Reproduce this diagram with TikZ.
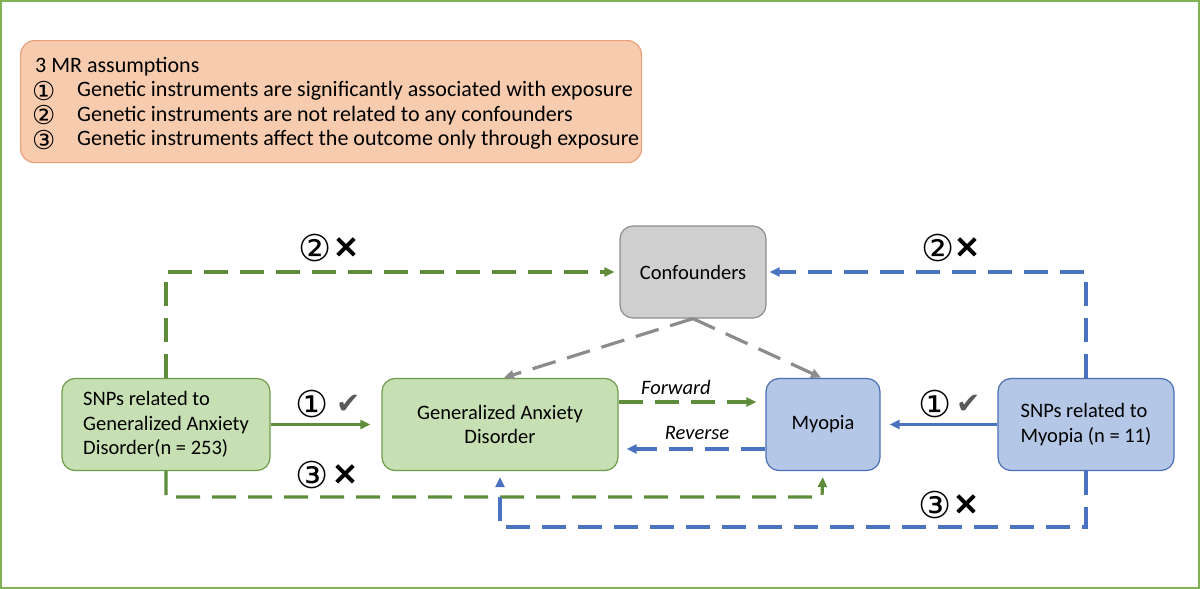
\documentclass[tikz,border=0pt]{standalone}
\usepackage{fontspec}
\setmainfont{Carlito}
\newfontfamily\symf{DejaVu Sans}
\newfontfamily\xfont[FakeBold=2.5]{DejaVu Sans}
\usetikzlibrary{arrows.meta}
\definecolor{gline}{HTML}{5E8C3A}
\definecolor{gfill}{HTML}{C6DFB3}
\definecolor{gdraw}{HTML}{6E9C4A}
\definecolor{bline}{HTML}{4A72C0}
\definecolor{bfill}{HTML}{B4C7E7}
\definecolor{bdraw}{HTML}{4A6FB5}
\definecolor{cfill}{HTML}{D0CFCF}
\definecolor{cdraw}{HTML}{8C8C8C}
\definecolor{pfill}{HTML}{F6CBAE}
\definecolor{pdraw}{HTML}{E9A07C}
\definecolor{frame}{HTML}{7FB356}
\begin{document}
\begin{tikzpicture}[x=1pt,y=-1pt,
  box/.style={draw, rounded corners=13pt, line width=1.2pt, minimum height=92pt, inner sep=0pt, font=\fontsize{20.5}{24.5}\selectfont},
  gbox/.style={box, fill=gfill, draw=gdraw},
  bbox/.style={box, fill=bfill, draw=bdraw},
  cbox/.style={box, fill=cfill, draw=cdraw},
  tip/.style={-{Triangle[length=10pt,width=9pt]}},
  conn/.style={line width=3.2pt, tip},
  dconn/.style={conn, dash pattern=on 24pt off 12pt},
  lbl/.style={font=\symf\fontsize{37}{37}\selectfont, inner sep=0pt},
  xm/.style={font=\xfont\fontsize{31}{31}\selectfont, inner sep=0pt},
  ck/.style={font=\symf\fontsize{29}{29}\selectfont, inner sep=0pt, text=black!65},
  it/.style={font=\fontsize{20.5}{24}\selectfont\itshape, inner sep=0pt},
  atxt/.style={anchor=west, inner sep=0pt, font=\fontsize{22}{24}\selectfont},
  anum/.style={anchor=west, inner sep=0pt, font=\symf\fontsize{26}{26}\selectfont}
]
\useasboundingbox (0,0) rectangle (1200,589);
\draw[frame, line width=1.5pt] (1,1) rectangle (1199,588);

% assumptions box
\node[draw=pdraw, fill=pfill, line width=1.2pt, rounded corners=14pt, minimum width=621pt, minimum height=122pt, anchor=north west, inner sep=0pt] (assump) at (20,40) {};
\node[atxt] (t0) at (35,67) {3 MR assumptions};
\node[anum] (c1) at (32,91) {①};
\node[anum] (c2) at (32,115.5) {②};
\node[anum] (c3) at (32,140) {③};
\node[atxt] (t1) at (77,91) {Genetic instruments are significantly associated with exposure};
\node[atxt] (t2) at (77,115.5) {Genetic instruments are not related to any confounders};
\node[atxt] (t3) at (77,140) {Genetic instruments affect the outcome only through exposure};

% nodes
\node[gbox, minimum width=208pt, align=left] (snpgad) at (166,424.5) {SNPs related to\\Generalized Anxiety\\Disorder(n = 253)};
\node[gbox, minimum width=236pt, align=center] (gad) at (500,424.5) {Generalized Anxiety\\Disorder};
\node[cbox, minimum width=146pt, minimum height=92pt] (conf) at (693,272) {Confounders};
\node[bbox, minimum width=114pt] (myo) at (823,424.5) {Myopia};
\node[bbox, minimum width=176pt, align=left] (snpmyo) at (1086,424.5) {SNPs related to\\Myopia (n = 11)};

% coordinates
\coordinate (g2) at (166,272);
\coordinate (g3) at (166,497);
\coordinate (g3e) at (822,497);
\coordinate (b2) at (1086,272);
\coordinate (b3) at (1086,527);
\coordinate (b3e) at (500,527);

% connectors
\draw[conn, gline, shorten >=11pt] (snpgad.east) -- (gad.west);
\draw[conn, bline, shorten >=9pt] (snpmyo.west) -- (myo.east);
\draw[dconn, gline, shorten >=5pt] (snpgad.north) -- (g2) -- (conf.west);
\draw[dconn, bline, shorten >=3pt] (snpmyo.north) -- (b2) -- (conf.east);
\draw[dconn, gline, shorten >=6pt] (snpgad.south) -- (g3) -- (g3e) -- (myo.south);
\draw[dconn, bline, shorten >=6pt] (snpmyo.south) -- (b3) -- (b3e) -- (gad.south);
\draw[dconn, gline, shorten >=9pt] (gad.east |- 0,402) -- (myo.west |- 0,402);
\draw[dconn, bline, shorten >=8pt] (myo.west |- 0,449) -- (gad.east |- 0,449);
\draw[dconn, cdraw, shorten >=1pt] (conf.south) -- (503,378);
\draw[dconn, cdraw, shorten >=1pt] (conf.south) -- (822,378);

% labels
\node[it] (fw) at (676,387) {Forward};
\node[it] (rv) at (697,433) {Reverse};
\node[lbl] (n2g) at (315,248) {②};
\node[xm]  (x2g) at (346,248) {✕};
\node[lbl] (n1g) at (312,404) {①};
\node[ck]  (k1g) at (349,404) {✔};
\node[lbl] (n3g) at (312,475) {③};
\node[xm]  (x3g) at (345,475) {✕};
\node[lbl] (n2b) at (938,248) {②};
\node[xm]  (x2b) at (967,248) {✕};
\node[lbl] (n1b) at (935,404) {①};
\node[ck]  (k1b) at (969,404) {✔};
\node[lbl] (n3b) at (935,505) {③};
\node[xm]  (x3b) at (966,505) {✕};
\end{tikzpicture}
\end{document}
